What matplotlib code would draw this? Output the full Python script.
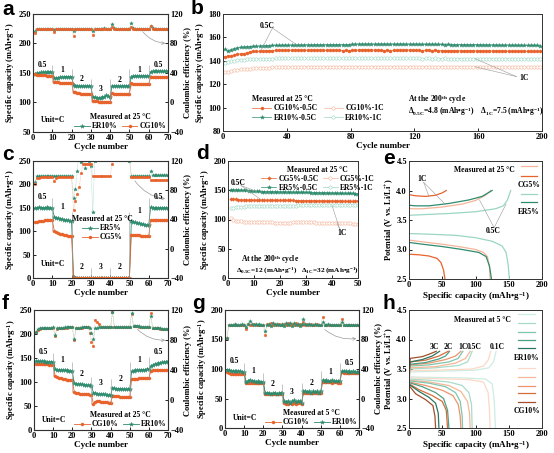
import numpy as np
import matplotlib
matplotlib.use('Agg')
import matplotlib.pyplot as plt
import matplotlib.ticker as mticker

plt.rcParams['font.family'] = ['Liberation Serif', 'DejaVu Serif']
plt.rcParams['font.weight'] = 'bold'
plt.rcParams['axes.labelweight'] = 'bold'
plt.rcParams['mathtext.fontset'] = 'custom'
plt.rcParams['mathtext.rm'] = 'Liberation Serif:bold'
plt.rcParams['mathtext.bf'] = 'Liberation Serif:bold'
plt.rcParams['mathtext.it'] = 'Liberation Serif:bold:italic'
plt.rcParams['mathtext.default'] = 'rm'

ORANGE = '#e8622c'
TEAL = '#2e8b6e'
LORANGE = '#f5b49a'
LTEAL = '#9ad6c2'
GREY = '#9a9a9a'

# ---------------- data ----------------
cyc70 = np.arange(1, 71)
rates = ['0.5', '1', '2', '3', '2', '1', '0.5']

# panel a (25 C, 10 %)
er10_a = [149, 150, 150, 151, 151, 151, 151, 152, 152, 152,
          141, 142, 142, 143, 143, 143, 144, 144, 144, 144,
          129, 128, 128, 128, 128, 128, 128, 128, 128, 128,
          110, 109, 108, 108, 108, 109, 110, 112, 111, 109,
          128, 128, 128, 128, 128, 128, 128, 128, 128, 128,
          144, 145, 145, 145, 145, 145, 145, 145, 145, 145,
          152, 153, 153, 153, 153, 153, 153, 153, 153, 153]
cg10_a = [148, 147, 146, 146, 146, 146, 145, 145, 145, 145,
          135, 134, 134, 133, 133, 133, 133, 133, 133, 133,
          118, 117, 116, 116, 115, 115, 115, 115, 115, 115,
          103, 102, 102, 101, 101, 101, 101, 101, 101, 101,
          116, 115, 115, 115, 115, 115, 115, 115, 115, 115,
          133, 132, 132, 131, 131, 131, 131, 131, 131, 131,
          144, 143, 143, 143, 143, 143, 143, 143, 143, 143]
er10_ce_a = [97.5, 99.8, 100.0, 100.1, 100.0, 100.1, 100.0, 100.0, 100.1, 100.0,
             98.5, 99.9, 100.0, 100.0, 100.1, 100.0, 100.0, 100.1, 100.0, 100.0,
             96.5, 99.5, 100.0, 100.0, 100.0, 100.1, 100.0, 100.0, 100.0, 100.1,
             97.0, 99.6, 100.0, 100.1, 100.0, 100.2, 100.4, 100.3, 100.2, 100.0,
             106.5, 100.5, 100.2, 100.1, 100.0, 100.0, 100.0, 100.1, 100.0, 100.0,
             108.0, 100.6, 100.3, 100.1, 100.0, 100.0, 100.0, 100.0, 100.0, 100.0,
             104.0, 100.4, 100.2, 100.1, 100.0, 100.0, 100.0, 100.0, 100.0, 100.0]
cg10_ce_a = [93.6, 99.5, 99.8, 99.9, 99.9, 100.0, 99.9, 99.9, 100.0, 99.9,
             96.0, 99.6, 99.8, 99.9, 99.9, 99.9, 99.9, 100.0, 99.9, 99.9,
             90.4, 99.3, 99.7, 99.8, 99.9, 99.9, 99.9, 99.9, 99.9, 99.9,
             91.0, 99.4, 99.8, 99.9, 99.9, 100.0, 100.1, 100.2, 100.1, 99.9,
             102.5, 100.3, 100.1, 100.0, 99.9, 99.9, 99.9, 100.0, 99.9, 99.9,
             103.0, 100.3, 100.1, 100.0, 99.9, 99.9, 99.9, 99.9, 99.9, 99.9,
             103.5, 100.3, 100.1, 100.0, 99.9, 99.9, 99.9, 99.9, 99.9, 99.9]

# panel b (200 cycles, every 2nd cycle)
cyc_b = np.arange(1, 201, 2)
cg10_05_b = [143.5, 144.0, 144.0, 145.0, 145.5, 146.0, 146.0, 147.0, 147.5, 148.0,
             148.0, 148.2, 148.5, 148.5, 148.7, 148.8, 149.0, 149.0, 149.0, 149.0,
             149.2, 149.0, 149.3, 149.0, 149.2, 149.0, 149.1, 149.0, 149.2, 149.0,
             149.0, 149.1, 149.0, 149.0, 148.9, 149.0, 149.0, 148.8, 149.0, 148.8,
             149.0, 149.0, 149.2, 149.3, 149.5, 149.5, 149.3, 149.2, 149.0, 149.0,
             148.8, 149.0, 148.8, 149.0, 148.9, 149.0, 149.2, 149.3, 149.2, 149.0,
             149.0, 149.0, 148.8, 148.9, 149.0, 148.8, 148.9, 148.7, 148.8, 148.7,
             148.6, 148.7, 148.6, 148.5, 148.6, 148.5, 148.6, 148.5, 148.4, 148.5,
             148.4, 148.5, 148.4, 148.3, 148.4, 148.3, 148.4, 148.3, 148.2, 148.3,
             148.2, 148.3, 148.2, 148.1, 148.2, 148.1, 148.2, 148.0, 148.1, 148.0]
er10_05_b = [150.0, 148.5, 149.5, 150.5, 151.0, 151.5, 151.8, 152.0, 152.2, 152.4,
             152.5, 152.6, 152.8, 153.0, 153.0, 153.1, 153.2, 153.2, 153.3, 153.3,
             153.4, 153.4, 153.5, 153.5, 153.5, 153.6, 153.6, 153.6, 153.6, 153.7,
             153.6, 153.7, 153.7, 153.7, 153.8, 153.8, 153.7, 153.8, 153.8, 153.9,
             154.2, 154.2, 154.2, 154.3, 154.2, 154.3, 154.3, 154.2, 154.3, 154.3,
             154.2, 154.3, 154.2, 154.3, 154.2, 154.2, 154.3, 154.2, 154.2, 154.1,
             154.2, 154.1, 154.1, 154.2, 154.1, 154.0, 154.1, 154.0, 154.0, 153.9,
             154.0, 153.9, 153.9, 153.8, 153.9, 153.8, 153.8, 153.7, 153.8, 153.7,
             153.7, 153.6, 153.6, 153.6, 153.5, 153.5, 153.5, 153.4, 153.4, 153.4,
             153.3, 153.3, 153.3, 153.2, 153.2, 153.2, 153.1, 153.1, 153.1, 153.0]
cg10_1_b = [130.0, 130.8, 131.4, 131.9, 132.3, 132.6, 132.9, 133.1, 133.3, 133.5,
            133.7, 133.8, 134.0, 134.1, 134.2, 134.3, 134.4, 134.5, 134.5, 134.6,
            134.7, 134.7, 134.8, 134.8, 134.9, 134.9, 135.0, 135.0, 135.0, 135.0,
            135.1, 135.0, 135.1, 135.0, 135.1, 135.1, 135.0, 135.1, 135.0, 135.1,
            135.1, 135.0, 135.1, 135.1, 135.0, 135.1, 135.0, 135.1, 135.1, 135.0,
            135.1, 135.0, 135.1, 135.0, 135.1, 135.0, 135.1, 135.0, 135.0, 135.1,
            135.0, 135.1, 135.0, 135.0, 135.1, 135.0, 135.0, 135.1, 135.0, 135.0,
            135.0, 134.9, 135.0, 134.9, 135.0, 134.9, 134.9, 135.0, 134.9, 134.9,
            134.8, 134.8, 134.7, 134.8, 134.7, 134.7, 134.6, 134.7, 134.6, 134.6,
            134.6, 134.5, 134.6, 134.5, 134.5, 134.5, 134.4, 134.5, 134.4, 134.4]
er10_1_b = [138.0, 139.0, 139.6, 140.1, 140.5, 140.8, 141.0, 141.2, 141.3, 141.5,
            141.6, 141.7, 141.8, 141.8, 141.9, 141.9, 142.0, 142.0, 142.0, 142.0,
            142.1, 142.0, 142.1, 142.0, 142.1, 142.1, 142.0, 142.1, 142.0, 142.1,
            142.1, 142.0, 142.1, 142.1, 142.0, 142.1, 142.0, 142.1, 142.1, 142.0,
            142.1, 142.0, 142.1, 142.0, 142.1, 142.0, 142.1, 142.0, 142.0, 142.1,
            142.0, 142.1, 142.0, 142.0, 142.1, 142.0, 142.0, 142.1, 142.0, 142.0,
            142.0, 142.0, 141.9, 142.0, 142.0, 141.9, 142.0, 141.9, 141.9, 142.0,
            141.9, 141.9, 141.9, 141.9, 141.8, 141.9, 141.9, 141.8, 141.9, 141.8,
            141.8, 141.8, 141.8, 141.7, 141.8, 141.7, 141.8, 141.7, 141.7, 141.7,
            141.7, 141.7, 141.6, 141.7, 141.6, 141.7, 141.6, 141.6, 141.6, 141.6]

# panel c (25 C, 5 %)
er5_c = [150, 150, 151, 150, 150, 150, 151, 150, 150, 150,
         131, 129, 128, 127, 126, 125, 124, 123, 122, 121,
         2, 1, 1, 1, 1, 1, 1, 1, 1, 1,
         1, 1, 1, 1, 1, 1, 1, 1, 1, 1,
         1, 1, 1, 1, 1, 1, 1, 1, 1, 1,
         121, 120, 119, 118, 117, 116, 115, 114, 113, 113,
         151, 150, 150, 150, 150, 150, 150, 150, 150, 150]
cg5_c = [119, 120, 121, 122, 122, 123, 123, 124, 124, 124,
         101, 98, 96, 94, 93, 92, 91, 90, 90, 89,
         1, 1, 1, 1, 1, 1, 1, 1, 1, 1,
         1, 1, 1, 1, 1, 1, 1, 1, 1, 1,
         1, 1, 1, 1, 1, 1, 1, 1, 1, 1,
         92, 91, 91, 91, 91, 90, 90, 90, 90, 90,
         123, 123, 123, 123, 123, 123, 123, 123, 123, 123]
er5_ce_c = [91.0, 99.0, 99.3, 99.4, 99.5, 99.5, 99.5, 99.5, 99.6, 99.5,
            99.0, 99.3, 99.4, 99.5, 99.5, 99.5, 99.6, 99.5, 99.5, 99.5,
            68.8, 81.6, 107.0, 140.0, 119.0, 150.0, 110.0, 160.0, 120.0, 113.6,
            49.6, 120.0, 150.0, 170.0, 140.0, 160.0, 150.0, 170.0, 155.0, 165.0,
            150.0, 160.0, 145.0, 170.0, 150.0, 160.0, 155.0, 165.0, 150.0, 120.0,
            99.0, 99.5, 99.5, 99.5, 99.6, 99.5, 99.5, 99.6, 99.5, 99.5,
            106.0, 100.5, 100.8, 100.8, 100.8, 100.8, 100.8, 100.8, 100.8, 100.8]
cg5_ce_c = [89.0, 97.0, 97.4, 97.5, 97.6, 97.6, 97.6, 97.6, 97.6, 97.6,
            92.5, 97.4, 97.5, 97.6, 97.6, 97.6, 97.6, 97.6, 97.6, 97.6,
            52.8, 65.6, 75.0, 85.0, 104.0, 116.5, 116.5, 116.5, 116.5, 116.5,
            99.5, 99.5, 99.5, 99.5, 99.5, 99.5, 99.5, 99.5, 99.5, 99.5,
            116.5, 140.0, 150.0, 145.0, 150.0, 140.0, 150.0, 145.0, 150.0, 140.0,
            97.6, 97.6, 97.6, 97.6, 97.6, 97.6, 97.6, 97.6, 97.6, 97.6,
            94.4, 94.4, 94.4, 94.4, 94.4, 94.4, 94.4, 94.4, 94.4, 94.4]

# panel d (50 cycles, 5 %)
cyc_d = np.arange(1, 51)
cg5_05_d = [135.0, 134.6, 134.2, 134.0, 133.8, 133.6, 133.5, 133.4, 133.3, 133.2,
            133.2, 133.1, 133.1, 133.0, 133.0, 132.9, 132.9, 132.8, 132.8, 132.7,
            132.7, 132.6, 132.6, 132.5, 132.5, 132.4, 132.4, 132.3, 132.3, 132.2,
            132.2, 132.1, 132.1, 132.0, 132.0, 132.0, 131.9, 131.9, 131.8, 131.8,
            131.7, 131.7, 131.6, 131.5, 131.4, 131.2, 131.0, 130.8, 131.5, 132.0]
er5_05_d = [151.0, 150.8, 150.5, 150.3, 150.1, 149.9, 149.7, 149.4, 149.1, 148.7,
            148.0, 147.9, 147.8, 147.8, 147.7, 147.6, 147.5, 147.4, 147.3, 147.2,
            147.1, 147.0, 146.9, 146.8, 146.8, 146.7, 146.6, 146.5, 146.4, 146.3,
            146.2, 146.1, 146.0, 145.9, 145.8, 145.7, 145.6, 145.5, 145.4, 145.3,
            145.2, 145.1, 145.0, 144.9, 144.8, 144.7, 144.6, 144.5, 144.4, 144.3]
cg5_1_d = [102.0, 99.5, 97.5, 97.0, 96.8, 96.5, 96.3, 96.2, 96.0, 96.0,
           95.9, 95.8, 95.7, 95.6, 95.5, 95.3, 95.0, 94.8, 94.5, 94.3,
           94.2, 94.3, 94.5, 94.8, 95.0, 95.2, 95.4, 95.5, 95.5, 95.4,
           95.3, 95.2, 95.0, 94.8, 94.6, 94.5, 94.4, 94.3, 94.2, 94.0,
           93.8, 93.7, 93.6, 93.5, 93.4, 93.3, 93.2, 93.1, 93.0, 93.0]
er5_1_d = [119.0, 120.0, 120.8, 121.3, 121.7, 122.0, 122.3, 122.5, 122.7, 122.9,
           123.0, 123.1, 123.2, 123.3, 123.4, 123.4, 123.5, 123.5, 123.6, 123.6,
           123.7, 123.7, 123.8, 123.8, 123.9, 123.9, 124.0, 124.0, 124.0, 124.1,
           124.1, 124.2, 124.2, 124.2, 124.3, 124.3, 124.3, 124.4, 124.4, 124.4,
           124.5, 124.5, 124.5, 124.6, 124.6, 124.6, 124.7, 124.7, 124.8, 124.8]

# panel e: charge / discharge curves (capacity, potential)
e_curves = {
    'cg05_ch': ([0, 5, 20, 50, 80, 100, 115, 123], [3.70, 3.69, 3.69, 3.72, 3.77, 3.83, 3.92, 4.00]),
    'cg05_dis': ([0, 20, 50, 80, 100, 112, 118, 121, 122], [3.16, 3.13, 3.09, 3.04, 3.00, 2.95, 2.88, 2.70, 2.50]),
    'cg1_ch': ([0, 10, 25, 40, 50, 56], [3.93, 3.91, 3.90, 3.92, 3.96, 4.00]),
    'cg1_dis': ([0, 15, 30, 42, 48, 52, 54], [2.92, 2.91, 2.89, 2.85, 2.78, 2.65, 2.50]),
    'er05_ch': ([0, 20, 60, 100, 130, 142, 148, 153], [3.58, 3.59, 3.61, 3.64, 3.69, 3.74, 3.84, 4.00]),
    'er05_dis': ([0, 30, 70, 100, 125, 140, 146, 149, 151], [3.27, 3.26, 3.24, 3.20, 3.14, 3.06, 2.95, 2.75, 2.50]),
    'er1_ch': ([0, 10, 30, 60, 90, 110, 125], [3.75, 3.74, 3.74, 3.78, 3.84, 3.90, 4.00]),
    'er1_dis': ([0, 20, 50, 80, 105, 116, 121, 124], [3.12, 3.09, 3.05, 3.00, 2.95, 2.88, 2.72, 2.50]),
}

# panel f (25 C, 10 %)
er10_f = [144, 143, 143, 143, 143, 142, 142, 142, 142, 142,
          127, 126, 126, 125, 125, 124, 124, 123, 123, 123,
          97, 96, 96, 95, 95, 94, 94, 93, 93, 92,
          78, 77, 76, 75, 75, 74, 74, 73, 73, 72,
          87, 87, 86, 86, 86, 86, 85, 85, 85, 85,
          122, 123, 124, 125, 125, 126, 126, 126, 127, 127,
          133, 135, 137, 138, 139, 140, 141, 142, 142, 143]
cg10_f = [137, 137, 137, 137, 137, 137, 137, 136, 136, 136,
          112, 110, 109, 108, 107, 106, 105, 105, 104, 104,
          80, 78, 77, 76, 75, 75, 74, 74, 73, 73,
          55, 58, 60, 60, 59, 59, 58, 58, 57, 57,
          70, 70, 70, 70, 69, 69, 69, 69, 69, 69,
          106, 107, 107, 107, 108, 108, 108, 108, 108, 108,
          123, 124, 124, 125, 125, 125, 125, 125, 125, 125]
er10_ce_f = [91.0, 94.5, 95.5, 96.0, 96.3, 96.5, 96.5, 96.6, 96.6, 96.7,
             86.7, 95.5, 96.2, 96.5, 96.6, 96.7, 96.7, 96.8, 96.8, 96.8,
             81.0, 95.8, 96.4, 96.6, 96.7, 96.8, 96.8, 96.9, 96.0, 90.0,
             82.0, 96.0, 96.5, 96.7, 96.8, 96.9, 96.9, 97.0, 97.0, 97.0,
             117.0, 97.5, 97.5, 97.6, 97.6, 97.6, 97.6, 97.6, 97.6, 97.6,
             115.5, 98.5, 98.3, 98.2, 98.1, 98.0, 98.0, 98.0, 98.0, 98.0,
             111.6, 96.0, 95.8, 95.6, 95.5, 95.4, 95.3, 95.2, 95.2, 95.1]
cg10_ce_f = [90.5, 94.0, 95.2, 95.8, 96.1, 96.3, 96.4, 96.5, 96.5, 96.6,
             85.5, 95.2, 96.0, 96.3, 96.5, 96.6, 96.6, 96.7, 96.7, 96.7,
             79.5, 95.5, 96.2, 96.5, 96.6, 96.7, 96.7, 96.8, 90.0, 77.8,
             72.0, 106.6, 104.0, 102.0, 98.0, 97.0, 97.0, 97.0, 97.0, 97.0,
             117.5, 97.4, 97.4, 97.5, 97.5, 97.5, 97.5, 97.5, 97.5, 97.5,
             115.0, 98.4, 98.2, 98.1, 98.0, 97.9, 97.9, 97.9, 97.9, 97.9,
             116.0, 95.8, 95.6, 95.5, 95.4, 95.3, 95.2, 95.1, 95.1, 95.0]

# panel g (5 C, 10 %)
er10_g = [99, 98, 97, 97, 96, 96, 96, 96, 95, 95,
          78, 80, 82, 79, 80, 78, 79, 78, 78, 78,
          60, 59, 60, 58, 59, 60, 58, 59, 60, 59,
          45, 44, 46, 43, 45, 47, 44, 46, 45, 42,
          62, 63, 61, 62, 60, 62, 61, 62, 60, 62,
          81, 80, 81, 79, 80, 81, 79, 80, 79, 80,
          96, 97, 96, 95, 96, 95, 96, 95, 95, 96]
cg10_g = [95, 93, 92, 92, 92, 91, 91, 91, 91, 91,
          77, 76, 77, 77, 77, 76, 77, 77, 77, 77,
          58, 57, 57, 57, 58, 57, 57, 58, 57, 57,
          42, 40, 41, 42, 40, 43, 41, 42, 43, 41,
          60, 60, 59, 60, 59, 60, 60, 59, 60, 59,
          78, 78, 78, 78, 78, 77, 78, 78, 77, 77,
          95, 94, 94, 94, 94, 94, 94, 94, 94, 94]
er10_ce_g = [82.4, 99.5, 100.2, 99.8, 100.5, 99.6, 100.3, 99.9, 100.4, 100.0,
             97.0, 100.5, 105.6, 101.0, 99.5, 100.8, 99.7, 100.4, 99.9, 100.2,
             92.0, 99.5, 101.5, 98.8, 102.0, 99.2, 101.0, 100.0, 99.0, 101.5,
             98.0, 102.5, 99.0, 101.8, 98.5, 102.0, 99.5, 101.0, 98.8, 100.5,
             108.0, 100.5, 99.8, 101.2, 100.0, 99.5, 100.8, 100.0, 99.6, 100.3,
             104.0, 100.2, 99.8, 100.4, 100.0, 99.7, 100.2, 100.0, 99.8, 100.1,
             104.0, 100.0, 99.9, 100.1, 100.0, 99.9, 100.0, 100.0, 99.9, 100.0]
cg10_ce_g = [81.6, 99.0, 100.0, 100.3, 99.7, 100.2, 99.8, 100.1, 99.9, 100.2,
             94.0, 101.5, 100.2, 99.6, 101.0, 99.8, 100.3, 99.9, 100.0, 99.8,
             86.0, 100.8, 99.0, 102.0, 99.5, 101.2, 99.0, 101.0, 100.2, 99.6,
             101.0, 99.2, 102.0, 99.0, 101.5, 99.0, 101.8, 99.4, 101.0, 99.5,
             104.0, 99.8, 100.6, 99.5, 100.4, 100.0, 99.7, 100.4, 100.0, 99.8,
             110.0, 99.9, 100.3, 99.8, 100.2, 100.0, 99.8, 100.2, 100.0, 99.9,
             108.0, 99.8, 100.1, 100.0, 99.9, 100.0, 100.0, 99.9, 100.0, 100.0]

# panel h (5 C): curves per rate, 0.1C .. 3C
h_rates = ['0.1C', '0.5C', '1C', '2C', '3C']
h_er_ch = [([0, 2, 40, 100, 120, 127, 131], [3.30, 3.45, 3.46, 3.48, 3.52, 3.62, 3.80]),
           ([0, 2, 40, 75, 88, 95], [3.35, 3.50, 3.52, 3.56, 3.62, 3.80]),
           ([0, 2, 30, 60, 74, 81], [3.40, 3.55, 3.57, 3.62, 3.68, 3.80]),
           ([0, 2, 25, 45, 55, 61], [3.45, 3.58, 3.61, 3.67, 3.72, 3.80]),
           ([0, 2, 20, 35, 46], [3.50, 3.62, 3.66, 3.72, 3.80])]
h_er_dis = [([0, 20, 80, 115, 125, 128, 130], [3.37, 3.36, 3.35, 3.33, 3.25, 3.00, 2.50]),
            ([0, 30, 60, 80, 90, 94, 95], [3.33, 3.31, 3.28, 3.22, 3.10, 2.90, 2.50]),
            ([0, 30, 55, 70, 77, 80, 80.5], [3.30, 3.26, 3.20, 3.10, 2.95, 2.70, 2.50]),
            ([0, 20, 40, 52, 58, 60], [3.27, 3.20, 3.10, 3.00, 2.80, 2.50]),
            ([0, 15, 30, 40, 44, 45], [3.24, 3.12, 3.02, 2.92, 2.75, 2.50])]
h_cg_ch = [([0, 2, 40, 95, 112, 119, 123], [3.30, 3.47, 3.48, 3.50, 3.55, 3.65, 3.80]),
           ([0, 2, 40, 70, 85, 92], [3.35, 3.52, 3.54, 3.60, 3.68, 3.80]),
           ([0, 2, 30, 55, 70, 78], [3.40, 3.57, 3.60, 3.66, 3.72, 3.80]),
           ([0, 2, 25, 45, 59], [3.45, 3.62, 3.65, 3.72, 3.80]),
           ([0, 2, 20, 30, 41], [3.50, 3.68, 3.71, 3.75, 3.80])]
h_cg_dis = [([0, 30, 90, 112, 119, 121, 122], [3.35, 3.34, 3.32, 3.28, 3.10, 2.80, 2.50]),
            ([0, 30, 60, 78, 88, 91, 92], [3.31, 3.28, 3.22, 3.12, 2.95, 2.75, 2.50]),
            ([0, 25, 50, 66, 74, 77, 78], [3.28, 3.22, 3.14, 3.05, 2.90, 2.70, 2.50]),
            ([0, 15, 35, 50, 56, 58], [3.25, 3.15, 3.05, 2.95, 2.80, 2.50]),
            ([0, 10, 25, 36, 39, 40], [3.22, 3.08, 2.98, 2.88, 2.70, 2.50])]
h_label_x = [132, 98, 81, 59, 38]
h_teals = ['#cdece2', '#a7dccb', '#7fc6ae', '#4d9f86', '#2c7563']
h_oranges = ['#fbd8c7', '#f6b699', '#ec946d', '#d46d3c', '#a44f2a']

CAP_LABEL = 'Specific capacity (mAh\u2022g$^{-1}$)'
POT_LABEL = 'Potential (V vs. Li/Li$^{+}$)'

# ---------------- figure ----------------
fig = plt.figure(figsize=(5.54, 4.53), dpi=100)


def add_ax(l, t, r, b):
    return fig.add_axes([l / 554, 1 - b / 453, (r - l) / 554, (b - t) / 453])


def style(ax, xlim, xticks, ylim, yticks, xlabel, ylabel):
    ax.set_xlim(xlim)
    ax.set_xticks(xticks)
    ax.set_ylim(ylim)
    ax.set_yticks(yticks)
    ax.tick_params(direction='in', length=2.5, width=0.6, labelsize=6, pad=1.5)
    for s in ax.spines.values():
        s.set_linewidth(0.7)
        s.set_color('#333333')
    ax.set_xlabel(xlabel, fontsize=6.5, labelpad=0.5)
    ax.set_ylabel(ylabel, fontsize=6, labelpad=0.5)


def rate_panel(ax, series, ces, ylim, yticks, lab_off, unit_y, title, arrow, leg_kw):
    style(ax, (0, 70), range(0, 71, 10), ylim, yticks, 'Cycle number', CAP_LABEL)
    ax2 = ax.twinx()
    ax2.set_ylim(-40, 120)
    ax2.set_yticks([-40, 0, 40, 80, 120])
    ax2.tick_params(direction='in', length=2.5, width=0.6, labelsize=6, pad=1.5)
    ax2.set_ylabel('Coulombic efficiency (%)', fontsize=6, labelpad=0.5)
    handles = []
    for (vals, col, lcol, mk, ms, lab), ce in zip(series, ces):
        h, = ax.plot(cyc70, vals, color=col, marker=mk, ms=ms, lw=0.6, mew=0.3, label=lab)
        handles.append(h)
        ax2.plot(cyc70, ce, color=lcol, lw=0.35, ls=(0, (2, 1)))
        ax2.plot(cyc70, ce, color=col, marker=mk, ms=ms * 0.85, lw=0, mew=0.3)
    allv = np.array([s[0] for s in series])
    # rate labels + separators
    for i, r in enumerate(rates):
        seg = allv[:, i * 10:(i + 1) * 10]
        ax.text(i * 10 + 5, seg.max() + lab_off, r, fontsize=5.5, ha='center', va='bottom')
        if i > 0:
            edge = allv[:, i * 10 - 1:i * 10 + 1]
            ax.vlines(i * 10, edge.min(), edge.max() + lab_off + 8, color=GREY, lw=0.4)
    ax.text(4, unit_y, 'Unit=C', fontsize=5.5, ha='left', va='center')
    ax2.annotate('', xy=(70, arrow[2]), xytext=(arrow[0], arrow[1]),
                 arrowprops=dict(arrowstyle='->', color=GREY, lw=0.5,
                                 connectionstyle='arc3,rad=0.25', mutation_scale=5))
    order = leg_kw.pop('order')
    ax.legend([handles[k] for k in order], [handles[k].get_label() for k in order],
              title=title, fontsize=5.5, title_fontsize=5.5, frameon=False,
              handlelength=2.0, handletextpad=0.3, borderpad=0.1, labelspacing=0.15,
              borderaxespad=0.1, columnspacing=0.6, **leg_kw)
    ax.set_zorder(ax2.get_zorder() + 1)
    ax.patch.set_visible(False)
    return ax2


# ---- a ----
ax_a = add_ax(33, 14, 168, 132)
rate_panel(ax_a,
           [(er10_a, TEAL, LTEAL, '*', 3.2, 'ER10%'), (cg10_a, ORANGE, LORANGE, 'o', 2.2, 'CG10%')],
           [er10_ce_a, cg10_ce_a], (50, 250), range(50, 251, 50), 4, 70,
           'Measured at 25 \u00b0C', (56, 99, 80),
           dict(order=[0, 1], ncol=2, loc='lower right'))

# ---- b ----
ax_b = add_ax(223, 14, 542, 131)
style(ax_b, (0, 200), range(0, 201, 40), (80, 180), range(80, 181, 20), 'Cycle number', CAP_LABEL)
hb1, = ax_b.plot(cyc_b, cg10_05_b, color=ORANGE, marker='o', ms=2.2, lw=0.5, mew=0.3, label='CG10%-0.5C')
hb2, = ax_b.plot(cyc_b, er10_05_b, color=TEAL, marker='*', ms=3.0, lw=0.5, mew=0.3, label='ER10%-0.5C')
hb3, = ax_b.plot(cyc_b, cg10_1_b, color=LORANGE, marker='o', ms=2.4, lw=0.5, mew=0.4, mfc='white', label='CG10%-1C')
hb4, = ax_b.plot(cyc_b, er10_1_b, color=LTEAL, marker='o', ms=2.4, lw=0.5, mew=0.4, mfc='white', label='ER10%-1C')
leg = ax_b.legend(handles=[hb1, hb2, hb3, hb4], ncol=2, loc='lower left', bbox_to_anchor=(0.07, 0.02),
                  title='Measured at 25 \u00b0C', fontsize=5.5, title_fontsize=5.5, frameon=False,
                  handlelength=2.5, handletextpad=0.3, labelspacing=0.2, columnspacing=0.8)
leg._legend_box.align = 'left'
ax_b.text(28, 170, '0.5C', fontsize=5.5, ha='center', va='center')
for px, py in [(24, 149.3), (46, 153.8)]:
    ax_b.plot([31, px], [168, py], color=GREY, lw=0.4)
ax_b.text(189, 125.5, '1C', fontsize=5.5, ha='center', va='center')
for px, py in [(158, 141.8), (158, 134.9)]:
    ax_b.plot([184, px], [126.5, py], color=GREY, lw=0.4)
ax_b.text(116, 107, 'At the 200$^{th}$ cycle', fontsize=5.5, ha='left', va='center')
ax_b.text(116, 97, '$\\Delta_{0.5C}$=4.8 (mAh\u2022g$^{-1}$)    $\\Delta_{1C}$=7.5 (mAh\u2022g$^{-1}$)',
          fontsize=5.5, ha='left', va='center')

# ---- c ----
ax_c = add_ax(33, 161, 168, 278)
rate_panel(ax_c,
           [(er5_c, TEAL, LTEAL, '*', 3.2, 'ER5%'), (cg5_c, ORANGE, LORANGE, 'o', 2.2, 'CG5%')],
           [er5_ce_c, cg5_ce_c], (0, 250), range(0, 251, 50), 13, 30,
           'Measured at 25 \u00b0C', (52, 96, 68),
           dict(order=[0, 1], ncol=1, loc='upper left', bbox_to_anchor=(0.28, 0.55)))

# ---- d ----
ax_d = add_ax(228, 161, 358, 278)
style(ax_d, (0, 50), range(0, 51, 10), (0, 200), range(0, 201, 50), 'Cycle number', CAP_LABEL)
hd1, = ax_d.plot(cyc_d, cg5_05_d, color=ORANGE, marker='D', ms=1.8, lw=0.5, mew=0.3, label='CG5%-0.5C')
hd2, = ax_d.plot(cyc_d, er5_05_d, color=TEAL, marker='*', ms=3.0, lw=0.5, mew=0.3, label='ER5%-0.5C')
hd3, = ax_d.plot(cyc_d, cg5_1_d, color=LORANGE, marker='o', ms=2.4, lw=0.5, mew=0.4, mfc='white', label='CG5%-1C')
hd4, = ax_d.plot(cyc_d, er5_1_d, color=LTEAL, marker='o', ms=2.4, lw=0.5, mew=0.4, mfc='white', label='ER5%-1C')
ax_d.legend(handles=[hd1, hd2, hd3, hd4], ncol=2, loc='upper left', bbox_to_anchor=(0.2, 1.02),
            title='Measured at 25 \u00b0C', fontsize=5.5, title_fontsize=5.5, frameon=False,
            handlelength=2.0, handletextpad=0.3, labelspacing=0.15, columnspacing=0.5)
ax_d.text(4, 163, '0.5C', fontsize=5.5, ha='center', va='center')
for px, py in [(11, 148.0), (13, 133.1)]:
    ax_d.plot([5, px], [158, py], color=GREY, lw=0.4)
ax_d.text(44, 77, '1C', fontsize=5.5, ha='center', va='center')
for px, py in [(40, 124.4), (42, 93.7)]:
    ax_d.plot([43, px], [83, py], color=GREY, lw=0.4)
ax_d.text(5, 31, 'At the 200$^{th}$ cycle', fontsize=5.5, ha='left', va='center')
ax_d.text(3, 14, '$\\Delta_{0.5C}$=12 (mAh\u2022g$^{-1}$)   $\\Delta_{1C}$=32 (mAh\u2022g$^{-1}$)',
          fontsize=5.2, ha='left', va='center')

# ---- e ----
ax_e = add_ax(409, 161, 542, 279)
style(ax_e, (0, 200), range(0, 201, 50), (2.5, 4.5), [2.5, 3.0, 3.5, 4.0, 4.5], CAP_LABEL, POT_LABEL)
ax_e.yaxis.set_major_formatter(mticker.FormatStrFormatter('%.1f'))
e_cols = {'cg05': LORANGE, 'cg1': ORANGE, 'er05': LTEAL, 'er1': TEAL}
for key, (xs, ys) in e_curves.items():
    ax_e.plot(xs, ys, color=e_cols[key.rsplit('_', 1)[0]], lw=0.9)
ax_e.text(114, 4.35, 'Measured at 25 \u00b0C', fontsize=5.5, ha='center', va='center')
tr = ax_e.transAxes
for yy, col in [(0.955, LORANGE), (0.875, ORANGE), (0.72, LTEAL), (0.65, TEAL)]:
    ax_e.plot([0.84, 0.96], [yy, yy], color=col, lw=0.9, transform=tr)
ax_e.text(0.9, 0.795, 'CG5%', fontsize=5.5, ha='center', va='center', transform=tr)
ax_e.text(0.9, 0.57, 'ER5%', fontsize=5.5, ha='center', va='center', transform=tr)
ax_e.text(19, 4.19, '1C', fontsize=5.5, ha='center', va='center')
for px, py in [(30, 3.90), (55, 3.76)]:
    ax_e.plot([22, px], [4.14, py], color=GREY, lw=0.4)
ax_e.text(127, 3.31, '0.5C', fontsize=5.5, ha='center', va='center')
for px, py in [(106, 3.84), (146, 3.77)]:
    ax_e.plot([128, px], [3.37, py], color=GREY, lw=0.4)

# ---- f ----
ax_f = add_ax(34, 310, 168, 430)
rate_panel(ax_f,
           [(cg10_f, ORANGE, LORANGE, 'o', 2.2, 'CG10%'), (er10_f, TEAL, LTEAL, '*', 3.2, 'ER10%')],
           [cg10_ce_f, er10_ce_f], (0, 250), range(0, 251, 50), 11, 20,
           'Measured at 25 \u00b0C', (53, 97, 80),
           dict(order=[0, 1], ncol=2, loc='lower right'))

# ---- g ----
ax_g = add_ax(225, 310, 359, 428)
rate_panel(ax_g,
           [(cg10_g, ORANGE, LORANGE, 'o', 2.2, 'CG10%'), (er10_g, TEAL, LTEAL, '*', 3.2, 'ER10%')],
           [cg10_ce_g, er10_ce_g], (0, 200), range(0, 201, 50), 7, 17,
           'Measured at 5 \u00b0C', (51, 96, 82),
           dict(order=[0, 1], ncol=2, loc='lower right'))

# ---- h ----
ax_h = add_ax(409, 310, 542, 428)
style(ax_h, (0, 200), range(0, 201, 50), (2.5, 4.5), [2.5, 3.0, 3.5, 4.0, 4.5], CAP_LABEL, POT_LABEL)
ax_h.yaxis.set_major_formatter(mticker.FormatStrFormatter('%.1f'))
for i in range(5):
    for xs, ys in (h_er_ch[i], h_er_dis[i]):
        ax_h.plot(xs, ys, color=h_teals[i], lw=0.9)
    for xs, ys in (h_cg_ch[i], h_cg_dis[i]):
        ax_h.plot(xs, ys, color=h_oranges[i], lw=0.9)
    ax_h.text(h_label_x[i], 3.88, h_rates[i], fontsize=5.5, ha='center', va='center')
ax_h.text(110, 4.33, 'Measured at 5 \u00b0C', fontsize=5.5, ha='center', va='center')
tr = ax_h.transAxes
for yy, col in zip([0.966, 0.89, 0.81, 0.746, 0.678], h_teals):
    ax_h.plot([0.82, 0.95], [yy, yy], color=col, lw=0.9, transform=tr)
ax_h.text(0.885, 0.595, 'ER10%', fontsize=5.5, ha='center', va='center', transform=tr)
for yy, col in zip([0.51, 0.43, 0.36, 0.30, 0.22], h_oranges):
    ax_h.plot([0.82, 0.95], [yy, yy], color=col, lw=0.9, transform=tr)
ax_h.text(0.885, 0.14, 'CG10%', fontsize=5.5, ha='center', va='center', transform=tr)

# panel letters
for lab, x, y in [('a', 2, 0), ('b', 191, -1), ('c', 2, 145), ('d', 196, 144), ('e', 383, 149),
                  ('f', 2, 294), ('g', 192, 294), ('h', 382, 294)]:
    fig.text(x / 554, 1 - y / 453, lab, fontsize=15, family='Liberation Sans', va='top', ha='left')

fig.savefig('out.png', dpi=100)
